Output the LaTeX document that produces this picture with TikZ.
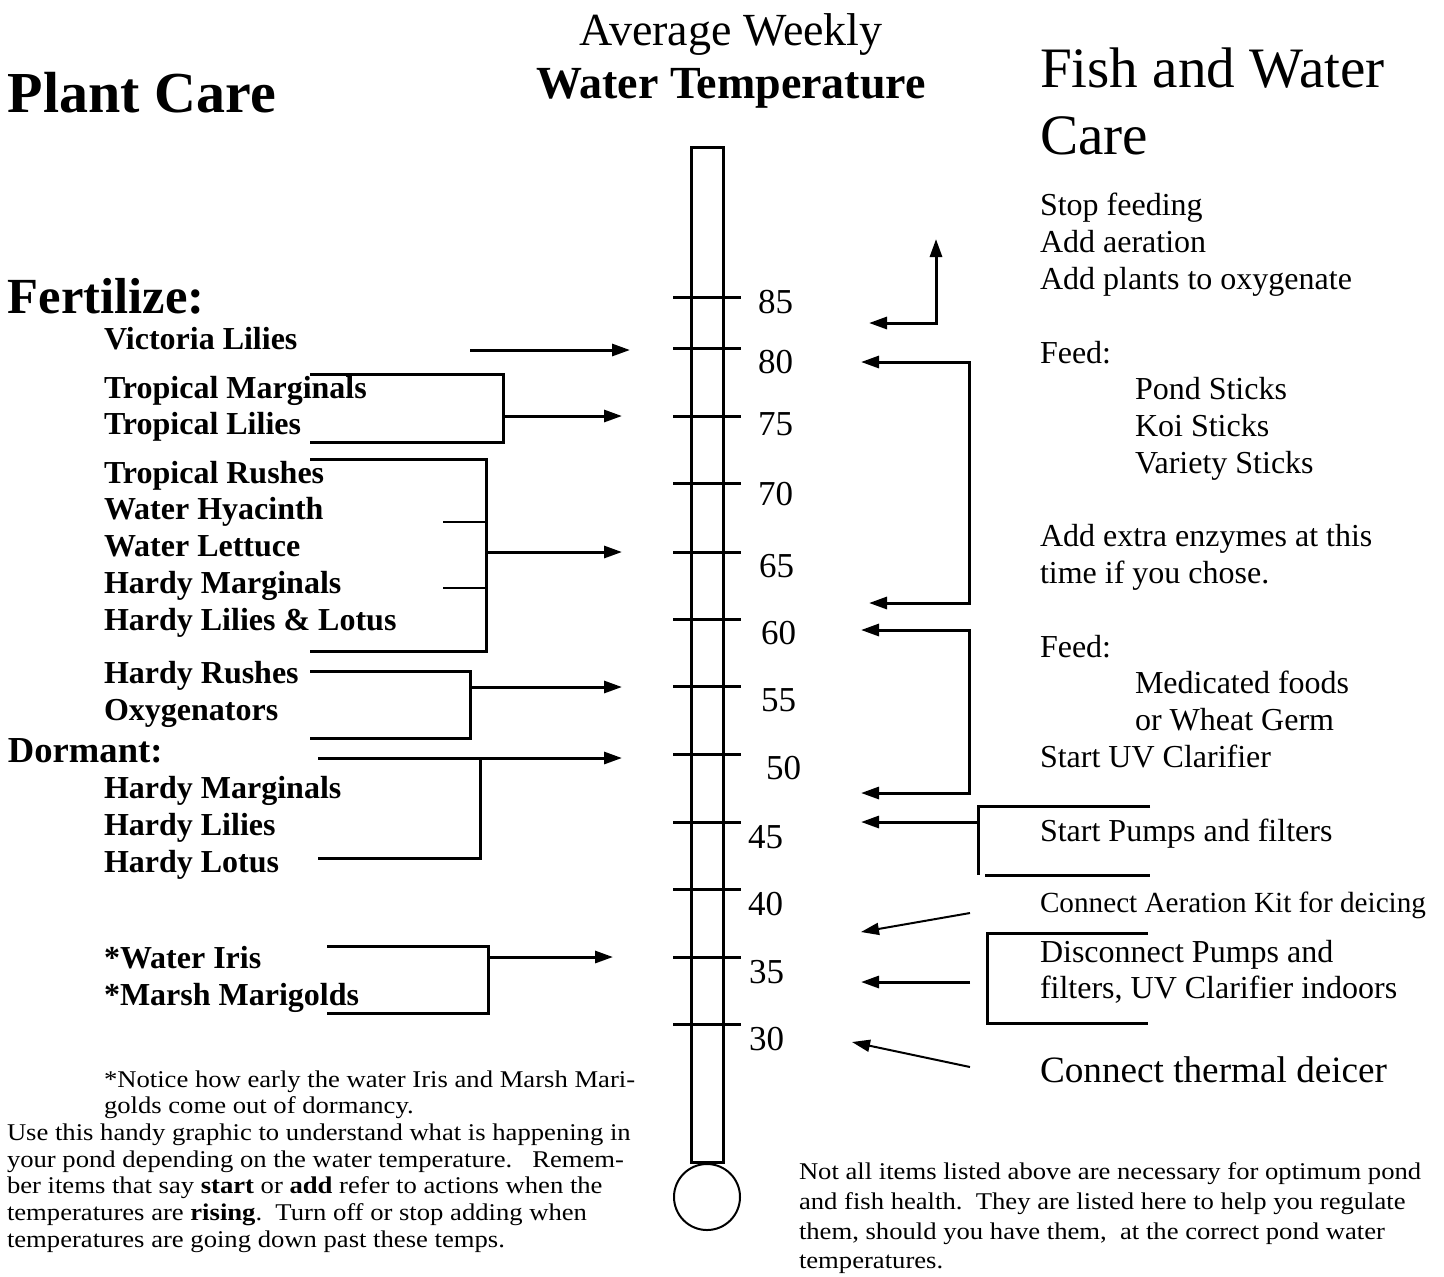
\documentclass[tikz,border=0pt]{standalone}
\usepackage{fontspec}
\setmainfont{Liberation Serif}
\newfontfamily\widefont[FakeStretch=1.11]{Liberation Serif}
\usetikzlibrary{arrows.meta}
\tikzset{
  every node/.style={inner sep=0pt, outer sep=0pt},
  heavy/.style={line width=1.5pt},
  light/.style={line width=1pt},
  tip/.tip={Triangle[length=9pt,width=6pt]},
  arr/.style={heavy,-tip},
  thinarr/.style={light,-tip},
  item/.style={anchor=base west, font=\bfseries\fontsize{16}{19}\selectfont},
  rtext/.style={anchor=base west, font=\fontsize{16}{19}\selectfont},
  num/.style={anchor=base west, font=\fontsize{17.5}{21}\selectfont},
  foot/.style={anchor=base west, font=\widefont\fontsize{12}{13}\selectfont},
}
\begin{document}
\begin{tikzpicture}[x=0.5pt,y=-0.5pt]
\fill[white] (0,0) rectangle (1444,1276);
\useasboundingbox (0,0) rectangle (1444,1276);

% ---------- headings ----------
\node[anchor=base west, font=\bfseries\fontsize{29}{34}\selectfont] (plantcare) at (8,112) {Plant Care};
\node[anchor=base, font=\fontsize{23}{27}\selectfont] (avg) at (731,45) {Average Weekly};
\node[anchor=base, font=\bfseries\fontsize{23}{27}\selectfont] (wtemp) at (731,98) {Water Temperature};
\node[anchor=base west, font=\fontsize{28.6}{34}\selectfont] (fish1) at (1040,87) {Fish and Water};
\node[anchor=base west, font=\fontsize{28.6}{34}\selectfont] (fish2) at (1040,154) {Care};
\node[anchor=base west, font=\bfseries\fontsize{25.3}{30}\selectfont] (fert) at (8,313) {Fertilize:};
\node[anchor=base west, font=\bfseries\fontsize{18.3}{22}\selectfont] (dorm) at (8,762) {Dormant:};

% ---------- thermometer ----------
\node[draw, heavy, rectangle, minimum width=16pt, minimum height=507.5pt] (tube) at (707,654.5) {};
\node[draw, light, circle, minimum size=33pt] (bulb) at (707,1197) {};
\foreach \yy/\lab/\lx/\ly [count=\i] in {297/85/758/313, 348/80/758/373, 416/75/758/435, 483/70/758/505, 552/65/759/577, 619/60/761/644, 686/55/761/711, 754/50/766/779, 822/45/748/848, 889/40/748/915, 957/35/749/983, 1024/30/749/1050}{
  \draw[heavy] (673,\yy) -- (741,\yy);
  \node[num] (n\i) at (\lx,\ly) {\lab};
}

% ---------- left plant list ----------
\node[item] (vic) at (104,349) {Victoria Lilies};
\node[item] (tmarg) at (104,398) {Tropical Marginals};
\node[item] (tlil) at (104,434) {Tropical Lilies};
\node[item] (trush) at (104,483) {Tropical Rushes};
\node[item] (whya) at (104,519) {Water Hyacinth};
\node[item] (wlet) at (104,556) {Water Lettuce};
\node[item] (hmarg) at (104,593) {Hardy Marginals};
\node[item] (hlil) at (104,630) {Hardy Lilies \& Lotus};
\node[item] (hrush) at (104,683) {Hardy Rushes};
\node[item] (oxy) at (104,720) {Oxygenators};
\node[item] (dmarg) at (104,798) {Hardy Marginals};
\node[item] (dlil) at (104,835) {Hardy Lilies};
\node[item] (dlot) at (104,872) {Hardy Lotus};
\node[item] (iris) at (104,968) {*Water Iris};
\node[item] (mari) at (104,1005) {*Marsh Marigolds};

% left connectors
\coordinate (vicS) at (470,350);  \coordinate (vicE) at (630,350);
\draw[arr] (vicS) -- (vicE);

\coordinate (trA) at (310,374); \coordinate (trB) at (503,442); \coordinate (trC) at (310,442);
\draw[heavy] (trA) -| (trB) -- (trC);
\coordinate (trS) at (503,416); \coordinate (trE) at (622,416);
\draw[arr] (trS) -- (trE);

\coordinate (rsA) at (310,459); \coordinate (rsB) at (486,651); \coordinate (rsC) at (310,651);
\draw[heavy] (rsA) -| (rsB) -- (rsC);
\coordinate (rsT1) at (443,522); \coordinate (rsT1e) at (486,522);
\coordinate (rsT2) at (443,588); \coordinate (rsT2e) at (486,588);
\draw[light] (rsT1) -- (rsT1e);
\draw[light] (rsT2) -- (rsT2e);
\coordinate (rsS) at (486,552); \coordinate (rsE) at (622,552);
\draw[arr] (rsS) -- (rsE);

\coordinate (hrA) at (310,671); \coordinate (hrB) at (470,738); \coordinate (hrC) at (310,738);
\draw[heavy] (hrA) -| (hrB) -- (hrC);
\coordinate (hrS) at (470,687); \coordinate (hrE) at (622,687);
\draw[arr] (hrS) -- (hrE);

\coordinate (dmS) at (318,758); \coordinate (dmE) at (622,758);
\draw[arr] (dmS) -- (dmE);
\coordinate (dmA) at (480,758); \coordinate (dmB) at (480,858); \coordinate (dmC) at (318,858);
\draw[heavy] (dmA) -- (dmB) -- (dmC);

\coordinate (irA) at (327,946); \coordinate (irB) at (488,1013); \coordinate (irC) at (327,1013);
\draw[heavy] (irA) -| (irB) -- (irC);
\coordinate (irS) at (488,957); \coordinate (irE) at (613,957);
\draw[arr] (irS) -- (irE);

% ---------- right fish list ----------
\node[rtext] (stop) at (1040,215) {Stop feeding};
\node[rtext] (aer) at (1040,252) {Add aeration};
\node[rtext] (oxyg) at (1040,289) {Add plants to oxygenate};
\node[rtext] (feed1) at (1040,363) {Feed:};
\node[rtext] (pond) at (1135,399) {Pond Sticks};
\node[rtext] (koi) at (1135,436) {Koi Sticks};
\node[rtext] (vari) at (1135,473) {Variety Sticks};
\node[rtext] (enz1) at (1040,546) {Add extra enzymes at this};
\node[rtext] (enz2) at (1040,583) {time if you chose.};
\node[rtext] (feed2) at (1040,657) {Feed:};
\node[rtext] (med) at (1135,693) {Medicated foods};
\node[rtext] (wheat) at (1135,730) {or Wheat Germ};
\node[rtext] (uv) at (1040,767) {Start UV Clarifier};
\node[rtext] (pumps) at (1040,841) {Start Pumps and filters};
\node[anchor=base west, font=\fontsize{14.6}{17}\selectfont] (kit) at (1040,912) {Connect Aeration Kit for deicing};
\node[rtext] (disc1) at (1040,962) {Disconnect Pumps and};
\node[rtext] (disc2) at (1040,998) {filters, UV Clarifier indoors};
\node[anchor=base west, font=\fontsize{18.6}{22}\selectfont] (therm) at (1040,1082) {Connect thermal deicer};

% right connectors
\coordinate (upL) at (869,323); \coordinate (upC) at (936,323); \coordinate (upT) at (936,239);
\draw[heavy,tip-tip] (upL) -- (upC) -- (upT);

\coordinate (b1a) at (861,362); \coordinate (b1b) at (969,362); \coordinate (b1c) at (969,603); \coordinate (b1d) at (869,603);
\draw[heavy,tip-tip] (b1a) -- (b1b) -- (b1c) -- (b1d);

\coordinate (b2a) at (861,630); \coordinate (b2b) at (969,630); \coordinate (b2c) at (969,793); \coordinate (b2d) at (861,793);
\draw[heavy,tip-tip] (b2a) -- (b2b) -- (b2c) -- (b2d);

\coordinate (spA) at (1150,806); \coordinate (spB) at (978,806); \coordinate (spC) at (978,875);
\draw[heavy] (spA) -- (spB) -- (spC);
\coordinate (spD) at (985,875); \coordinate (spE) at (1150,875);
\draw[heavy] (spD) -- (spE);
\coordinate (spS) at (978,822); \coordinate (spT) at (861,822);
\draw[arr] (spS) -- (spT);

\coordinate (akS) at (970,913); \coordinate (akT) at (861,932);
\draw[thinarr] (akS) -- (akT);

\coordinate (dcA) at (1148,933); \coordinate (dcB) at (987,1023); \coordinate (dcC) at (1148,1023);
\draw[heavy] (dcA) -| (dcB) -- (dcC);
\coordinate (dcS) at (970,982); \coordinate (dcT) at (861,982);
\draw[arr] (dcS) -- (dcT);

\coordinate (tdS) at (970,1067); \coordinate (tdT) at (852,1042);
\draw[thinarr] (tdS) -- (tdT);

% ---------- footnotes ----------
\node[foot] (note1) at (104,1087) {*Notice how early the water Iris and Marsh Mari-};
\node[foot] (note2) at (104,1113) {golds come out of dormancy.};
\node[foot] (use1) at (7,1140) {Use this handy graphic to understand what is happening in};
\node[foot] (use2) at (7,1167) {your pond depending on the water temperature.\ \ \ Remem-};
\node[foot] (use3) at (7,1193) {ber items that say \textbf{start} or \textbf{add} refer to actions when the};
\node[foot] (use4) at (7,1220) {temperatures are \textbf{rising}.\ \ Turn off or stop adding when};
\node[foot] (use5) at (7,1247) {temperatures are going down past these temps.};

\node[foot] (not1) at (799,1179) {Not all items listed above are necessary for optimum pond};
\node[foot] (not2) at (799,1209) {and fish health.\ \ They are listed here to help you regulate};
\node[foot] (not3) at (799,1239) {them, should you have them,\ \ at the correct pond water};
\node[foot] (not4) at (799,1268) {temperatures.};
\end{tikzpicture}
\end{document}
